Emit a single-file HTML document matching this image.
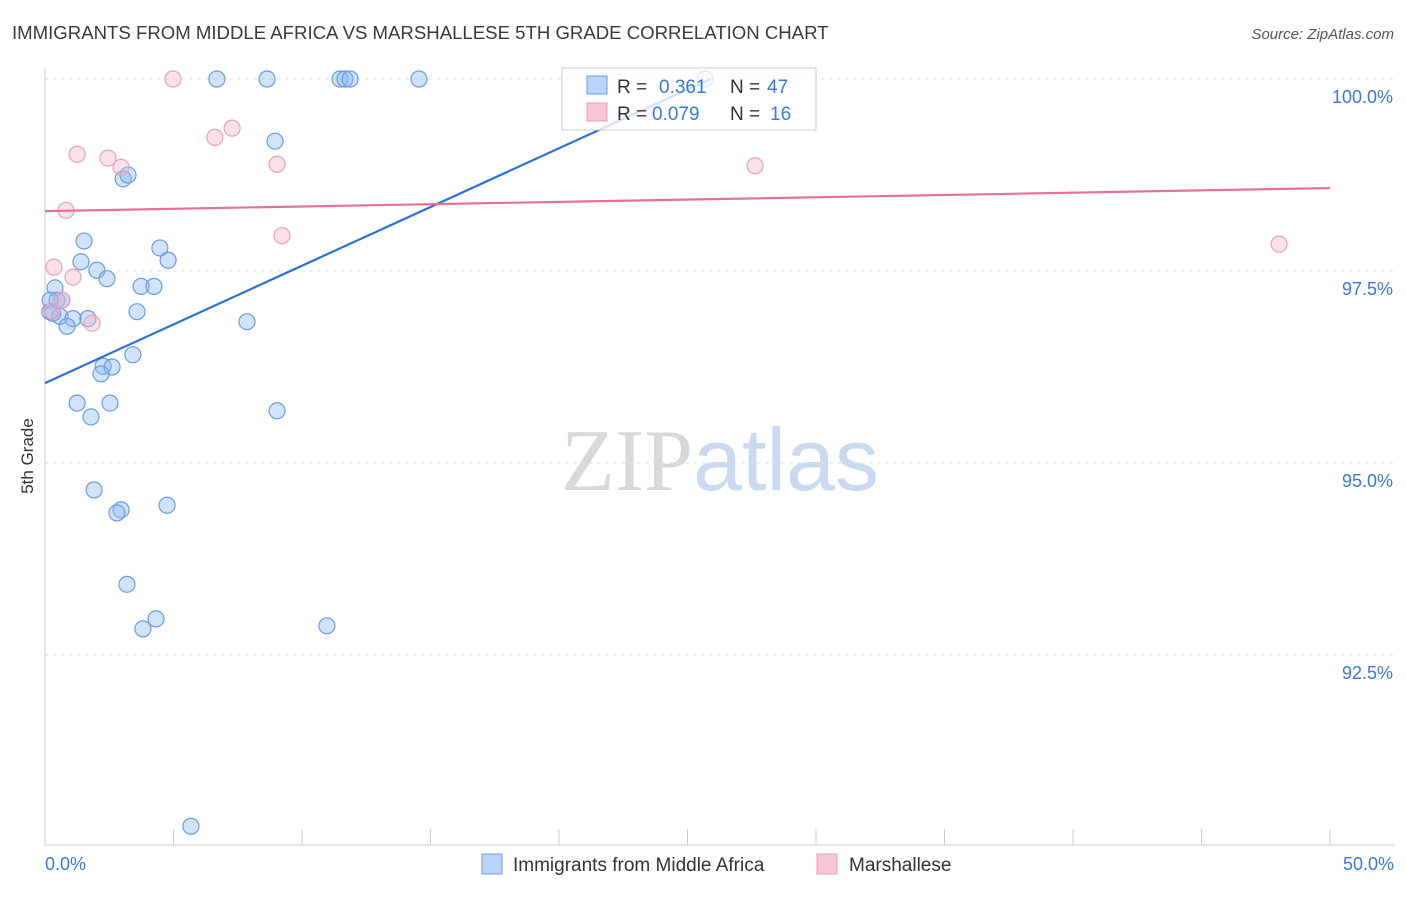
<!DOCTYPE html>
<html><head><meta charset="utf-8"><style>
body{margin:0;background:#fff;font-family:"Liberation Sans",sans-serif;}
svg text{font-family:"Liberation Sans",sans-serif;}
</style></head><body>
<svg id="chart" width="1406" height="892" xmlns="http://www.w3.org/2000/svg">
<text x="12" y="39" font-size="18.6" fill="#3a3a3a">IMMIGRANTS FROM MIDDLE AFRICA VS MARSHALLESE 5TH GRADE CORRELATION CHART</text>
<text x="1394" y="39" font-size="15" fill="#555" text-anchor="end" font-style="italic">Source: ZipAtlas.com</text>
<text x="720" y="490" font-size="88" text-anchor="middle"><tspan fill="#d8d8d8" font-family="Liberation Serif">ZIP</tspan><tspan fill="#c8d9f0">atlas</tspan></text>
<g id="grid"></g>
<g id="axes"></g>
<g id="marks"></g>
<g>
<rect x="562" y="68" width="254" height="62" fill="rgba(255,255,255,0.8)" stroke="#ccc"/>
<rect x="587" y="76" width="20" height="18" fill="#b8d4f8" stroke="#6a9be0"/>
<text y="93" font-size="19" fill="#333"><tspan x="617">R =</tspan><tspan x="659" fill="#3a78d8">0.361</tspan><tspan x="730">N =</tspan><tspan x="767" fill="#3a78d8">47</tspan></text>
<rect x="587" y="103" width="20" height="18" fill="#f8c8d6" stroke="#e8a0b8"/>
<text y="120" font-size="19" fill="#333"><tspan x="617">R =</tspan><tspan x="652" fill="#3a78d8">0.079</tspan><tspan x="730">N =</tspan><tspan x="770" fill="#3a78d8">16</tspan></text>
</g>
<text transform="translate(33,456) rotate(-90)" font-size="17" fill="#333" text-anchor="middle">5th Grade</text>
<g>
<rect x="482" y="854" width="20" height="20" fill="#b8d4f8" stroke="#6a9be0"/>
<text x="513" y="871" font-size="19" fill="#333">Immigrants from Middle Africa</text>
<rect x="817" y="854" width="20" height="20" fill="#f8c8d6" stroke="#e8a0b8"/>
<text x="849" y="871" font-size="19" fill="#333">Marshallese</text>
</g>
</svg>
<script>
const blueX=[6.69,8.64,11.48,11.67,11.87,14.55,25.68,8.95,3.04,3.23,1.52,4.47,4.79,1.40,2.02,2.41,0.39,3.74,4.24,0.47,0.66,0.19,3.58,0.58,1.09,1.67,0.86,7.86,3.42,2.26,2.61,2.18,1.25,2.53,1.79,9.03,1.91,2.96,2.80,4.75,3.19,4.32,3.81,10.97,5.68,0.2,0.3];
const blueY=[100,100,100,100,100,100,100,99.19,98.70,98.75,97.89,97.80,97.64,97.62,97.51,97.40,97.28,97.30,97.30,97.12,97.12,96.97,96.97,96.91,96.88,96.88,96.78,96.84,96.41,96.26,96.25,96.16,95.78,95.78,95.60,95.68,94.65,94.39,94.35,94.45,93.42,92.97,92.84,92.88,90.27,97.12,96.95];
const pinkX=[4.98,7.28,6.61,1.25,2.45,2.96,9.03,27.63,0.82,9.22,48.02,0.35,1.09,0.66,0.27,1.83];
const pinkY=[100,99.36,99.24,99.02,98.97,98.85,98.89,98.87,98.29,97.96,97.85,97.55,97.42,97.12,96.98,96.82];
const yTicks=[100,97.5,95,92.5];
const yTickLabels=["100.0%","97.5%","95.0%","92.5%"];
const xTicks=[0,5,10,15,20,25,30,35,40,45,50];
const blueTrend=[96.04,100];const blueTrendX=[0,25.9];
const pinkTrend=[98.28,98.58];const pinkTrendX=[0,50];
const X=v=>45+v/50*1285, Y=v=>79+(100-v)*76.8;
const NS="http://www.w3.org/2000/svg";
function mk(p,t,a){const e=document.createElementNS(NS,t);for(const k in a)e.setAttribute(k,a[k]);p.appendChild(e);return e;}
const grid=document.getElementById('grid'),axes=document.getElementById('axes'),marks=document.getElementById('marks');
yTicks.forEach((t,i)=>{
 const l=mk(grid,'line',{x1:45,x2:1395,y1:Y(t),y2:Y(t),stroke:'#e2e2e2','stroke-dasharray':'4,4'});
 
 
 const tx=mk(axes,'text',{x:1393,y:Y(t)+24,'font-size':18,fill:'#3a78d8','text-anchor':'end'});
 tx.textContent=yTickLabels[i];
 
 
});
mk(axes,'line',{x1:45,x2:45,y1:68,y2:845,stroke:'#ccc'});
mk(axes,'line',{x1:45,x2:1395,y1:845,y2:845,stroke:'#ccc'});
xTicks.forEach(t=>{
 const l=mk(axes,'line',{x1:X(t),x2:X(t),y1:829,y2:845,stroke:'#ccc'});
 
 
});
let t0=mk(axes,'text',{x:45,y:870,'font-size':18,fill:'#3a78d8'});t0.textContent='0.0%';


let t1=mk(axes,'text',{x:1394,y:870,'font-size':18,fill:'#3a78d8','text-anchor':'end'});t1.textContent='50.0%';


blueX.forEach((x,i)=>{
 const c=mk(marks,'circle',{cx:X(x),cy:Y(blueY[i]),r:8,fill:'rgba(140,185,245,0.4)',stroke:'#6a9be0','stroke-width':1.2});
 
 
});
pinkX.forEach((x,i)=>{
 const c=mk(marks,'circle',{cx:X(x),cy:Y(pinkY[i]),r:8,fill:'rgba(245,180,200,0.4)',stroke:'#e8a0b8','stroke-width':1.2});
 
 
});
const bl=mk(marks,'line',{x1:X(blueTrendX[0]),y1:Y(blueTrend[0]),x2:X(blueTrendX[1]),y2:Y(blueTrend[1]),stroke:'#2a72d8','stroke-width':2.2});


const pl=mk(marks,'line',{x1:X(pinkTrendX[0]),y1:Y(pinkTrend[0]),x2:X(pinkTrendX[1]),y2:Y(pinkTrend[1]),stroke:'#e87098','stroke-width':2.2});


</script>
</body></html>
